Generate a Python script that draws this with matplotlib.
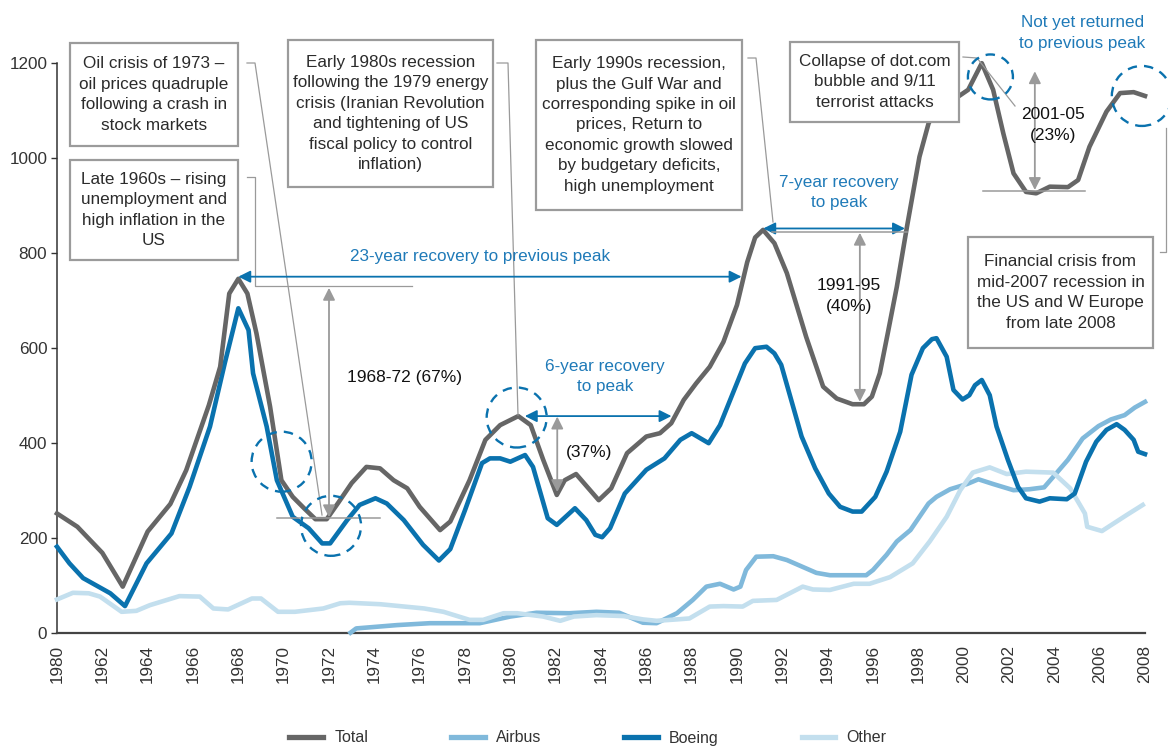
import matplotlib

matplotlib.use("Agg")
import matplotlib.pyplot as plt
from matplotlib.lines import Line2D
from matplotlib.patches import Ellipse, Rectangle

W, H = 1168, 747

# ---- data (years, values) ----
total_years = [1960.0, 1960.9, 1962.0, 1962.9, 1964.0, 1965.0, 1965.7, 1966.7, 1967.2, 1967.6,
               1968.0, 1968.4, 1968.8, 1969.4, 1969.9, 1970.4, 1970.9, 1971.4, 1971.9, 1972.4,
               1973.0, 1973.65, 1974.25, 1974.85, 1975.45, 1976.0, 1976.9, 1977.35, 1978.2, 1978.9,
               1979.55, 1980.35, 1980.9, 1981.45, 1982.05, 1982.4, 1982.9, 1983.9, 1984.45, 1985.15,
               1986.0, 1986.6, 1987.1, 1987.65, 1988.2, 1988.8, 1989.4, 1990.0, 1990.45, 1990.8,
               1991.15, 1991.65, 1992.2, 1993.05, 1993.8, 1994.4, 1995.1, 1995.6, 1995.95, 1996.3,
               1996.65, 1997.05, 1997.5, 1998.05, 1998.45, 1998.9, 1999.4, 1999.8, 2000.2, 2000.8,
               2001.3, 2001.75, 2002.2, 2002.75, 2003.2, 2003.8, 2004.6, 2005.05, 2005.55, 2006.3,
               2006.9, 2007.5, 2008.0]
total_vals = [251, 223, 168, 97, 213, 271, 342, 479, 560, 714,
              745, 714, 630, 476, 321, 286, 262, 239, 239, 273,
              315, 349, 346, 321, 304, 265, 216, 234, 321, 406,
              437, 456, 437, 364, 290, 321, 334, 279, 304, 378,
              413, 420, 441, 490, 525, 560, 612, 690, 780, 832,
              848, 820, 757, 623, 518, 493, 481, 481, 497, 546,
              630, 728, 855, 1002, 1072, 1115, 1128, 1130, 1143, 1199,
              1143, 1051, 967, 928, 925, 939, 938, 953, 1023, 1097,
              1136, 1138, 1130]

boeing_years = [1960.0, 1960.55, 1961.15, 1962.35, 1963.0, 1963.95, 1965.05, 1965.85, 1966.75, 1967.4,
                1967.8, 1968.0, 1968.45, 1968.65, 1969.25, 1969.7, 1970.4, 1971.1, 1971.7, 1972.05,
                1972.8, 1973.35, 1974.05, 1974.55, 1975.3, 1976.15, 1976.85, 1977.35, 1978.0, 1978.75,
                1979.1, 1979.55, 1980.0, 1980.65, 1981.0, 1981.65, 1982.05, 1982.85, 1983.35, 1983.75,
                1984.05, 1984.4, 1985.05, 1986.0, 1986.8, 1987.5, 1988.0, 1988.75, 1989.25, 1989.85,
                1990.35, 1990.8, 1991.3, 1991.65, 1991.95, 1992.35, 1992.85, 1993.45, 1994.05, 1994.55,
                1995.1, 1995.5, 1996.1, 1996.6, 1997.2, 1997.7, 1998.2, 1998.6, 1998.8, 1999.25,
                1999.55, 1999.95, 2000.25, 2000.5, 2000.8, 2001.15, 2001.45, 2001.95, 2002.4, 2002.75,
                2003.35, 2003.8, 2004.55, 2004.9, 2005.4, 2005.85, 2006.3, 2006.75, 2007.1, 2007.5,
                2007.7, 2008.0]
boeing_vals = [181, 146, 115, 83, 56, 146, 209, 307, 434, 567,
               644, 683, 637, 546, 434, 321, 244, 220, 188, 188,
               237, 269, 283, 272, 237, 185, 152, 176, 258, 357,
               367, 367, 360, 374, 349, 241, 227, 262, 237, 206,
               201, 220, 293, 343, 367, 406, 420, 399, 437, 508,
               567, 599, 602, 588, 564, 497, 413, 346, 293, 265,
               255, 255, 286, 339, 423, 543, 599, 618, 620, 581,
               511, 491, 500, 521, 532, 500, 434, 364, 307, 283,
               276, 283, 281, 293, 360, 402, 427, 439, 427, 406,
               381, 376]

airbus_years = [1972.95, 1973.2, 1975.0, 1976.45, 1978.65, 1980.0, 1981.15, 1982.6, 1983.8, 1984.8,
                1985.85, 1986.45, 1987.35, 1988.05, 1988.65, 1989.25, 1989.85, 1990.15, 1990.4, 1990.85,
                1991.6, 1992.2, 1993.5, 1994.1, 1995.7, 1996.0, 1996.6, 1997.05, 1997.65, 1998.45,
                1998.8, 1999.4, 2000.15, 2000.65, 2001.3, 2002.2, 2002.9, 2003.55, 2003.95, 2004.6,
                2005.25, 2005.95, 2006.5, 2007.1, 2007.55, 2008.0]
airbus_vals = [0, 9, 16, 20, 20, 34, 42, 41, 44, 42,
               21, 20, 41, 69, 97, 103, 91, 97, 132, 160,
               161, 153, 126, 121, 121, 132, 164, 192, 216, 272,
               286, 302, 313, 323, 313, 300, 302, 306, 328, 364,
               409, 435, 449, 458, 474, 486]

other_years = [1960.0, 1960.7, 1961.4, 1961.9, 1962.85, 1963.5, 1964.1, 1965.4, 1966.3, 1966.9,
               1967.55, 1968.6, 1969.0, 1969.75, 1970.5, 1971.75, 1972.5, 1972.9, 1974.25, 1976.2,
               1977.05, 1978.2, 1978.8, 1979.7, 1980.3, 1981.45, 1982.2, 1982.8, 1983.8, 1985.0,
               1985.85, 1986.45, 1987.35, 1987.9, 1988.8, 1989.4, 1990.25, 1990.7, 1991.75, 1992.9,
               1993.35, 1994.1, 1995.15, 1995.85, 1996.75, 1997.75, 1998.5, 1999.25, 1999.85, 2000.4,
               2001.15, 2001.9, 2002.75, 2003.95, 2004.7, 2005.35, 2005.45, 2006.1, 2007.2, 2007.9]
other_vals = [70, 84, 83, 76, 44, 46, 58, 77, 76, 51,
              49, 72, 72, 44, 44, 51, 62, 63, 60, 51,
              44, 27, 27, 41, 41, 34, 25, 34, 37, 35,
              28, 25, 28, 30, 55, 56, 55, 67, 69, 97,
              91, 90, 103, 103, 117, 146, 192, 244, 300, 337,
              348, 334, 339, 337, 304, 251, 223, 214, 248, 269]

tick_years = list(range(1960, 2009, 2))
tick_labels = ["1980"] + [str(y) for y in tick_years[1:]]  # first label printed as 1980 in the source
y_ticks = [0, 200, 400, 600, 800, 1000, 1200]

GRAY = "#666666"
BOEING = "#0a72ae"
AIRBUS = "#80b9db"
OTHER = "#c3dfee"
BLUE_TXT = "#1f7ab8"
ARROW_GRAY = "#9a9a9a"
BOX_EDGE = "#9b9b9b"
TXT = "#2b2b2b"

plt.rcParams["font.family"] = ["Liberation Sans", "DejaVu Sans"]


def P(x, y):
    """pixel position -> figure fraction"""
    return x / W, 1 - y / H


fig = plt.figure(figsize=(W / 100, H / 100), dpi=100)
ax = fig.add_axes([57 / W, 1 - 632.7 / H, (1145 - 57) / W, (632.7 - 62.7) / H])

lw = 3.3
ax.plot(airbus_years, airbus_vals, color=AIRBUS, lw=lw, zorder=3, clip_on=False, solid_joinstyle="round")
ax.plot(other_years, other_vals, color=OTHER, lw=lw, zorder=3.5, clip_on=False, solid_joinstyle="round")
ax.plot(boeing_years, boeing_vals, color=BOEING, lw=lw, zorder=4, clip_on=False, solid_joinstyle="round")
ax.plot(total_years, total_vals, color=GRAY, lw=lw, zorder=5, clip_on=False, solid_joinstyle="round")

ax.set_xlim(1960, 2008)
ax.set_ylim(0, 1200)
ax.set_xticks(tick_years)
ax.set_xticklabels(tick_labels, rotation=90)
ax.set_yticks(y_ticks)
ax.tick_params(axis="x", length=0, pad=9, labelsize=12.3, labelcolor="#333333")
ax.tick_params(axis="y", length=4, width=1, pad=3, labelsize=12.3, labelcolor="#333333", color="#333333")
for s in ["top", "right"]:
    ax.spines[s].set_visible(False)
ax.spines["left"].set_color("#333333")
ax.spines["left"].set_linewidth(1.1)
ax.spines["bottom"].set_color("#444444")
ax.spines["bottom"].set_linewidth(1.6)

# ---- annotation helpers ----
xs_px = (1145 - 57) / 48.0
ys_px = (632.7 - 62.7) / 1200.0


def darrow(x0, y0, x1, y1, color):
    ax.annotate("", xy=(x1, y1), xytext=(x0, y0),
                arrowprops=dict(arrowstyle="<|-|>", color=color, lw=1.3, mutation_scale=18,
                                shrinkA=0, shrinkB=0), zorder=6, annotation_clip=False)


def hline(x0, x1, y, color=ARROW_GRAY):
    ax.plot([x0, x1], [y, y], color=color, lw=1.1, zorder=6, clip_on=False)


def circle(x, y, r=30):
    ax.add_patch(Ellipse((x, y), 2 * r / xs_px, 2 * r / ys_px, fill=False, ec=BOEING,
                         lw=1.7, ls=(0, (4, 3)), zorder=6, clip_on=False))


def leader(pts):
    xs = [P(*p)[0] for p in pts]
    ys = [P(*p)[1] for p in pts]
    ax.add_line(Line2D(xs, ys, transform=fig.transFigure, color=ARROW_GRAY, lw=0.9,
                       zorder=5.5, clip_on=False))


def box(x0, y0, x1, y1, text):
    fx0, fy1 = P(x0, y0)
    fx1, fy0 = P(x1, y1)
    ax.add_patch(Rectangle((fx0, fy0), fx1 - fx0, fy1 - fy0, transform=fig.transFigure,
                           fc="white", ec=BOX_EDGE, lw=1.6, zorder=7, clip_on=False))
    ax.text((fx0 + fx1) / 2, (fy0 + fy1) / 2, text, transform=fig.transFigure, ha="center",
            va="center", fontsize=12.3, color=TXT, linespacing=1.45, zorder=8)


# 1968-72 drop
darrow(1972.0, 726, 1972.0, 243, ARROW_GRAY)
hline(1969.7, 1974.25, 241)
ax.text(1975.35, 538, "1968-72 (67%)", ha="center", va="center", fontsize=12.5, color="#111111", zorder=6)
circle(1969.91, 360)
circle(1972.09, 225)

# 23-year recovery
darrow(1968.0, 749.5, 1990.2, 749.5, BOEING)
ax.text(1978.66, 793, "23-year recovery to previous peak", ha="center", va="center",
        fontsize=12.3, color=BLUE_TXT, zorder=6)

# early 1980s
circle(1980.28, 453)
darrow(1980.64, 456, 1987.11, 456, BOEING)
darrow(1982.07, 455, 1982.07, 296, ARROW_GRAY)
ax.text(1983.47, 380, "(37%)", ha="center", va="center", fontsize=12.5, color="#111111", zorder=6)
ax.text(1984.17, 540, "6-year recovery\nto peak", ha="center", va="center", fontsize=12.3,
        color=BLUE_TXT, linespacing=1.45, zorder=6)

# early 1990s
darrow(1991.16, 851, 1997.41, 851, BOEING)
hline(1991.54, 1997.5, 844)
darrow(1995.42, 842, 1995.42, 486, ARROW_GRAY)
ax.text(1994.94, 709, "1991-95\n(40%)", ha="center", va="center", fontsize=12.5, color="#111111",
        linespacing=1.45, zorder=6.5)
ax.text(1994.5, 927, "7-year recovery\nto peak", ha="center", va="center", fontsize=12.3,
        color=BLUE_TXT, linespacing=1.45, zorder=6)

# 2001-05
circle(2001.18, 1170, r=22.5)
darrow(2003.14, 1182, 2003.14, 932, ARROW_GRAY)
hline(2000.85, 2005.35, 930.5)
ax.text(2003.94, 1069, "2001-05\n(23%)", ha="center", va="center", fontsize=12.5, color="#111111",
        linespacing=1.45, zorder=6.5)
circle(2007.86, 1130)
fx, fy = P(1082.5, 33)
ax.text(fx, fy, "Not yet returned\nto previous peak", transform=fig.transFigure, ha="center",
        va="center", fontsize=12.3, color=BLUE_TXT, linespacing=1.45, zorder=6)

# leader lines from the boxes
leader([(247, 63), (255, 63), (322, 515)])
leader([(247, 177), (255, 177), (255, 286), (412, 286)])
leader([(497, 63), (508, 63), (518, 415)])
leader([(748, 58), (756, 58), (773, 222)])
leader([(963, 57), (977, 58), (1015, 106)])
leader([(1160, 252), (1166, 252), (1166, 128)])

# text boxes
box(70, 43, 238, 146, "Oil crisis of 1973 \u2013\noil prices quadruple\nfollowing a crash in\nstock markets")
box(70, 160, 238, 260, "Late 1960s \u2013 rising\nunemployment and\nhigh inflation in the\nUS")
box(288, 40, 493, 187, "Early 1980s recession\nfollowing the 1979 energy\ncrisis (Iranian Revolution\n"
    "and tightening of US\nfiscal policy to control\ninflation)")
box(536, 40, 742, 210, "Early 1990s recession,\nplus the Gulf War and\ncorresponding spike in oil\n"
    "prices, Return to\neconomic growth slowed\nby budgetary deficits,\nhigh unemployment")
box(790, 42, 959, 122, "Collapse of dot.com\nbubble and 9/11\nterrorist attacks")
box(968, 237, 1153, 348, "Financial crisis from\nmid-2007 recession in\nthe US and W Europe\nfrom late 2008")

# legend
handles = [Line2D([], [], color=c, lw=3.8) for c in [GRAY, AIRBUS, BOEING, OTHER]]
fig.legend(handles, ["Total", "Airbus", "Boeing", "Other"], loc="center",
           bbox_to_anchor=P(588, 738), ncol=4, frameon=False, fontsize=11.5,
           handlelength=2.1, handletextpad=0.7, columnspacing=5.2, labelcolor="#333333")

fig.savefig("out.png", dpi=100)
